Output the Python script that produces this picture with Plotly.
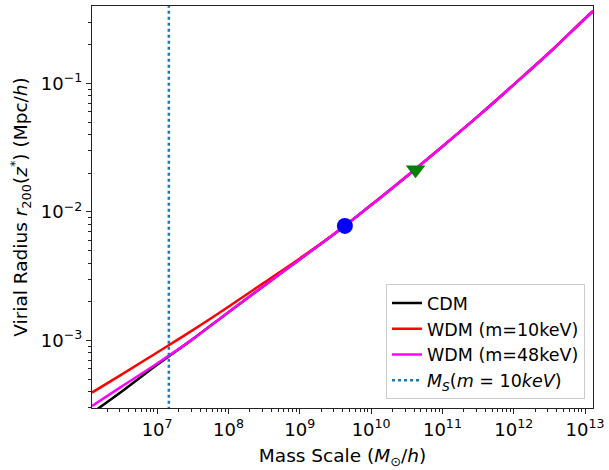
import numpy as np
import plotly.graph_objects as go

# ---- data ----
log_mass = [6.087, 6.5, 7.0, 7.5, 8.0, 8.5, 9.0, 9.5, 10.0, 10.5, 11.0, 11.5, 12.0, 12.5, 13.0, 13.111]
log_r_cdm = [-3.564, -3.40, -3.19, -2.99, -2.78, -2.575, -2.37, -2.165, -1.947, -1.722, -1.491, -1.255, -1.01, -0.76, -0.495, -0.439]
log_r_wdm10 = [-3.406, -3.266, -3.094, -2.92, -2.738, -2.55, -2.362, -2.165, -1.947, -1.722, -1.491, -1.255, -1.01, -0.76, -0.495, -0.439]
log_r_wdm48 = [-3.51, -3.36, -3.18, -2.99, -2.78, -2.575, -2.37, -2.165, -1.947, -1.722, -1.491, -1.255, -1.01, -0.76, -0.495, -0.439]

ms_line = 1.46e7          # M_S (m = 10 keV)
circle_pt = (4.29e9, 7.78e-3)
triangle_pt = (4.2e10, 2.13e-2)

x_tick_exps = [7, 8, 9, 10, 11, 12, 13]
y_tick_exps = [-3, -2, -1]

mass = [10 ** v for v in log_mass]
r_cdm = [10 ** v for v in log_r_cdm]
r_w10 = [10 ** v for v in log_r_wdm10]
r_w48 = [10 ** v for v in log_r_wdm48]

x_range = [6.087, 13.111]
y_range = [-3.526, -0.398]

font = "DejaVu Sans"

fig = go.Figure()
fig.add_trace(go.Scatter(x=mass, y=r_cdm, mode="lines", name="CDM",
                         line=dict(color="black", width=2.5, shape="spline")))
fig.add_trace(go.Scatter(x=mass, y=r_w10, mode="lines", name="WDM (m=10keV)",
                         line=dict(color="#ff0000", width=2.5, shape="spline")))
fig.add_trace(go.Scatter(x=mass, y=r_w48, mode="lines", name="WDM (m=48keV)",
                         line=dict(color="#ff00ff", width=2.5, shape="spline")))
fig.add_trace(go.Scatter(x=[ms_line, ms_line], y=[10 ** (y_range[0] - 0.2), 10 ** (y_range[1] + 0.2)],
                         mode="lines", name="<i>M</i><sub><i>S</i></sub>(<i>m</i> = 10<i>keV</i>)",
                         line=dict(color="#1f77b4", width=2.5, dash="dot")))
fig.add_trace(go.Scatter(x=[circle_pt[0]], y=[circle_pt[1]], mode="markers", showlegend=False,
                         marker=dict(color="#0000ff", size=16, symbol="circle")))
fig.add_trace(go.Scatter(x=[triangle_pt[0]], y=[triangle_pt[1]], mode="markers", showlegend=False,
                         marker=dict(color="#008000", size=17, symbol="triangle-down")))

def minor_vals(lo, hi):
    vals = []
    for e in range(int(np.floor(lo)), int(np.ceil(hi)) + 1):
        for k in range(2, 10):
            v = k * 10.0 ** e
            if lo <= np.log10(v) <= hi:
                vals.append(v)
    return vals

def sup(e):
    s = str(e).replace("-", "\u2212")
    return f"10<sup>{s}</sup>"

axis_common = dict(
    type="log", showgrid=False, zeroline=False, showline=True, linecolor="#222222",
    linewidth=1.3, mirror=True, ticks="outside", ticklen=5, tickwidth=1.2, tickcolor="#222222",
    tickfont=dict(family=font, size=18, color="black"),
)

fig.update_xaxes(**axis_common, range=x_range,
                 tickvals=[10.0 ** e for e in x_tick_exps], ticktext=[sup(e) for e in x_tick_exps],
                 minor=dict(tickvals=minor_vals(*x_range), ticks="outside", ticklen=3, tickwidth=1,
                            tickcolor="#222222"),
                 title=dict(text="Mass Scale (<i>M</i><sub>\u2299</sub>/<i>h</i>)",
                            font=dict(family=font, size=18.5, color="black"), standoff=10))
fig.update_yaxes(**axis_common, range=y_range,
                 tickvals=[10.0 ** e for e in y_tick_exps], ticktext=[sup(e) for e in y_tick_exps],
                 minor=dict(tickvals=minor_vals(*y_range), ticks="outside", ticklen=3, tickwidth=1,
                            tickcolor="#222222"),
                 title=dict(text="Virial Radius <i>r</i><sub>200</sub>(<i>z</i><sup>*</sup>) (Mpc/<i>h</i>)",
                            font=dict(family=font, size=18.5, color="black"), standoff=8))

fig.update_layout(
    width=609, height=470,
    margin=dict(l=92, r=12, t=5, b=62),
    paper_bgcolor="white", plot_bgcolor="white",
    font=dict(family=font, size=17.5, color="black"),
    legend=dict(x=0.984, y=0.022, xanchor="right", yanchor="bottom",
                bgcolor="rgba(255,255,255,0.85)", bordercolor="#cccccc", borderwidth=1,
                font=dict(family=font, size=17.5, color="black"), tracegroupgap=0),
    showlegend=True,
)

fig.write_html("out.html")
